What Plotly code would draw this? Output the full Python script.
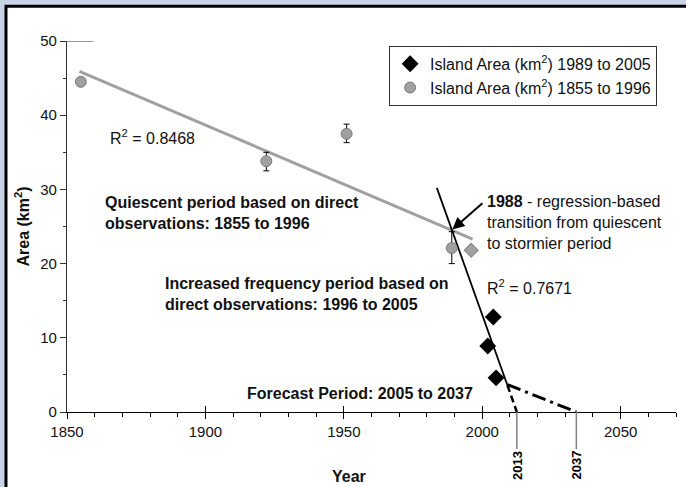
import plotly.graph_objects as go

# ---- data ----
obs_years = [1855, 1922, 1951, 1989, 1996]
obs_area = [44.5, 33.8, 37.5, 22.1, 21.8]
obs_err_plus = [0, 1.2, 1.3, 2.2, 0]
obs_err_minus = [0, 1.3, 1.2, 2.1, 0]
obs_symbols = ["circle", "circle", "circle", "circle", "diamond"]

recent_years = [2002, 2004, 2005]
recent_area = [8.9, 12.8, 4.6]

quiet_trend_x = [1854.5, 1996.5]
quiet_trend_y = [45.9, 23.3]
storm_trend_x = [1983.6, 2009.1]
storm_trend_y = [30.2, 3.6]
storm_proj_x = [2009.1, 2012.5]
storm_proj_y = [3.6, 0]
forecast_x = [2009.1, 2034.0]
forecast_y = [3.7, 0]

marker_line_pos = [2012.5, 2034.0]
marker_line_labels = ["2013", "2037"]

x_ticks = [1850, 1900, 1950, 2000, 2050]
y_ticks = [0, 10, 20, 30, 40, 50]

FONT = "Liberation Sans, Arial, sans-serif"
GRAY = "#a0a0a0"
BG = "#c8d4e6"

fig = go.Figure()

# trend lines
fig.add_trace(go.Scatter(x=quiet_trend_x, y=quiet_trend_y, mode="lines",
                         line=dict(color=GRAY, width=3), showlegend=False, hoverinfo="skip"))
fig.add_trace(go.Scatter(x=storm_trend_x, y=storm_trend_y, mode="lines",
                         line=dict(color="black", width=1.8), showlegend=False, hoverinfo="skip"))
fig.add_trace(go.Scatter(x=storm_proj_x, y=storm_proj_y, mode="lines",
                         line=dict(color="black", width=2.5, dash="7px,4px"), showlegend=False, hoverinfo="skip"))
fig.add_trace(go.Scatter(x=forecast_x, y=forecast_y, mode="lines",
                         line=dict(color="black", width=3, dash="14px,5px,3px,5px"), showlegend=False, hoverinfo="skip"))

# observations
fig.add_trace(go.Scatter(
    x=recent_years, y=recent_area, mode="markers",
    name="Island Area (km<sup>2</sup>) 1989 to 2005", legendrank=1,
    marker=dict(symbol="diamond", size=13, color="black"),
))
fig.add_trace(go.Scatter(
    x=obs_years, y=obs_area, mode="markers",
    name="Island Area (km<sup>2</sup>) 1855 to 1996", legendrank=2,
    marker=dict(symbol=obs_symbols, size=11, color=GRAY, line=dict(color="#7a7a7a", width=1)),
    error_y=dict(type="data", symmetric=False, array=obs_err_plus, arrayminus=obs_err_minus,
                 color="black", thickness=1, width=3),
))

# white panel with black border
fig.add_shape(type="rect", xref="paper", yref="paper", x0=-0.1002, x1=1.05, y0=-0.25, y1=1.094,
              line=dict(color="black", width=3), fillcolor="white", layer="below")
# short line at top of y axis
fig.add_shape(type="line", xref="x", yref="y", x0=1850, x1=1859.5, y0=50, y1=50,
              line=dict(color="#555555", width=1.2))
# vertical marker lines for forecast years
for xp, lab in zip(marker_line_pos, marker_line_labels):
    fig.add_shape(type="line", xref="x", yref="paper", x0=xp, x1=xp, y0=0, y1=-0.1,
                  line=dict(color="#808080", width=1.5))
    fig.add_annotation(x=xp, y=-0.143, xref="x", yref="paper", text="<b>" + lab + "</b>",
                       textangle=-90, showarrow=False, font=dict(size=13, color="black", family=FONT),
                       xanchor="center", yanchor="middle")

ann_font = dict(size=16, color="#111111", family=FONT)
fig.add_annotation(x=1864.8, y=37.1, text="R<sup>2</sup> = 0.8468", showarrow=False,
                   xanchor="left", yanchor="middle", font=ann_font)
fig.add_annotation(x=1863, y=26.85, text="<b>Quiescent period based on direct<br>observations: 1855 to 1996</b>",
                   showarrow=False, xanchor="left", yanchor="middle", align="left", font=ann_font)
fig.add_annotation(x=2001, y=25.6, text="<b>1988</b> - regression-based<br>transition from quiescent<br>to stormier period",
                   showarrow=False, xanchor="left", yanchor="middle", align="left", font=ann_font)
fig.add_annotation(x=1884.7, y=15.9, text="<b>Increased frequency period based on<br>direct observations: 1996 to 2005</b>",
                   showarrow=False, xanchor="left", yanchor="middle", align="left", font=ann_font)
fig.add_annotation(x=2001, y=16.9, text="R<sup>2</sup> = 0.7671", showarrow=False,
                   xanchor="left", yanchor="middle", font=ann_font)
fig.add_annotation(x=1914.3, y=2.5, text="<b>Forecast Period: 2005 to 2037</b>", showarrow=False,
                   xanchor="left", yanchor="middle", font=ann_font)
# x axis title (offset left of centre as in the original)
fig.add_annotation(x=0.463, y=-0.175, xref="paper", yref="paper", text="<b>Year</b>", showarrow=False,
                   xanchor="center", yanchor="middle", font=dict(size=16, color="#111111", family=FONT))
# arrow to transition point
fig.add_annotation(x=1989.2, y=24.6, ax=2000.6, ay=28.3, xref="x", yref="y", axref="x", ayref="y",
                   text="", showarrow=True, arrowhead=2, arrowsize=1.2, arrowwidth=2, arrowcolor="black")

fig.update_layout(
    width=686, height=487,
    margin=dict(l=67, r=10, t=41, b=75),
    paper_bgcolor=BG,
    plot_bgcolor="rgba(0,0,0,0)",
    font=dict(family=FONT, size=15, color="#111111"),
    showlegend=True,
    legend=dict(x=0.969, y=0.987, xanchor="right", yanchor="top",
                bgcolor="white", bordercolor="#333333", borderwidth=1,
                font=dict(size=16, color="#111111", family=FONT),
                itemwidth=30, tracegroupgap=4),
    xaxis=dict(range=[1850, 2070], tickvals=x_ticks, showgrid=False, zeroline=False,
               showline=True, linecolor="black", linewidth=1.2,
               ticks="outside", ticklen=6, tickcolor="black", tickwidth=1.2,
               minor=dict(dtick=10, ticks="outside", ticklen=4, tickcolor="black", tickwidth=1),
               tickfont=dict(size=15, color="#111111")),
    xaxis2=dict(range=[1850, 2070], overlaying="x", anchor="y", side="bottom",
                tickvals=x_ticks, showticklabels=False, showgrid=False, zeroline=False,
                showline=False, ticks="inside", ticklen=6, tickcolor="black", tickwidth=1.2),
    yaxis=dict(range=[0, 50], tickvals=y_ticks, showgrid=False, zeroline=False,
               showline=True, linecolor="#333333", linewidth=1.2,
               ticks="outside", ticklen=6, tickcolor="#333333", tickwidth=1.2,
               minor=dict(dtick=5, ticks="outside", ticklen=3, tickcolor="#333333", tickwidth=1),
               tickfont=dict(size=15, color="#111111"),
               title=dict(text="<b>Area (km<sup>2</sup>)</b>", font=dict(size=16), standoff=6)),
)
fig.add_trace(go.Scatter(x=[None], y=[None], xaxis="x2", yaxis="y", showlegend=False, hoverinfo="skip"))

fig.write_html(
    "out.html",
    config={"displayModeBar": False},
    post_script="document.body.style.margin='0';document.body.style.overflow='hidden';"
                "document.body.style.background='" + BG + "';",
)
